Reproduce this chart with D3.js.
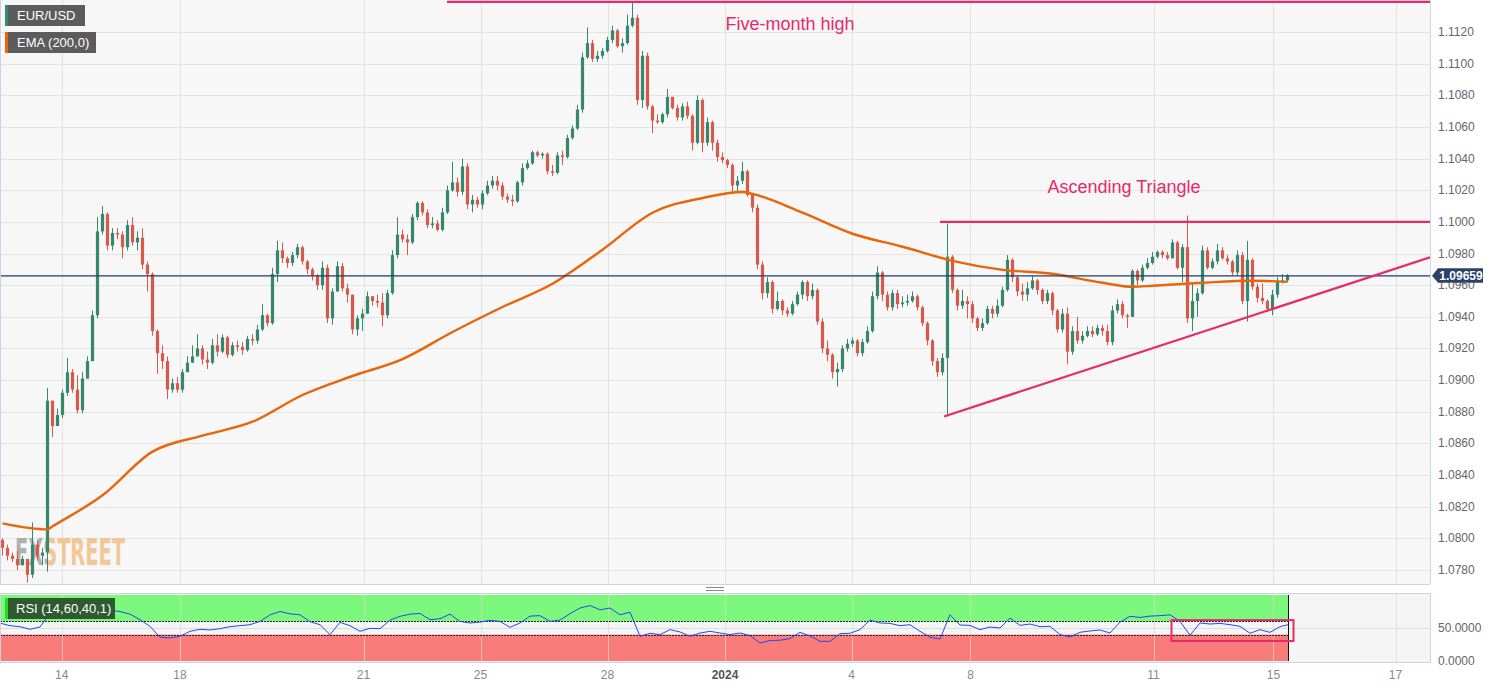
<!DOCTYPE html>
<html><head><meta charset="utf-8">
<script src="https://cdn.jsdelivr.net/npm/d3@7/dist/d3.min.js"></script>
<style>
body{margin:0;background:#fff;}
svg{display:block;font-family:"Liberation Sans",Arial,sans-serif;}
</style>
</head><body>
<svg id="c" width="1501" height="688"></svg>
<script>
// ---------- DATA (~2-hour candles) ----------
const firstOpen = 1.0799;
const closes = [
1.0794,1.0789,1.0787,1.0783,1.0787,1.0777,1.0796,1.0789,1.0791,1.0887,
1.0871,1.0878,1.0892,1.0905,1.0894,1.0881,1.0901,1.0912,1.0941,1.0994,
1.1005,1.0985,1.0993,1.0992,1.0984,1.0998,1.0987,1.0990,1.0973,1.0967,
1.0931,1.0917,1.0912,1.0894,1.0898,1.0894,1.0905,1.0911,1.0915,1.0920,
1.0913,1.0911,1.0922,1.0918,1.0927,1.0916,1.0922,1.0921,1.0919,1.0926,
1.0925,1.0932,1.0941,1.0936,1.0967,1.0982,1.0977,1.0974,1.0979,1.0984,
1.0975,1.0970,1.0966,1.0960,1.0971,1.0939,1.0956,1.0972,1.0958,1.0954,
1.0932,1.0939,1.0942,1.0953,1.0950,1.0949,1.0941,1.0955,1.0979,1.0992,
1.0989,1.0987,1.1003,1.1012,1.1006,1.0998,1.0999,1.0995,1.1006,1.1020,
1.1025,1.1019,1.1035,1.1011,1.1014,1.1011,1.1018,1.1023,1.1026,1.1023,
1.1016,1.1014,1.1013,1.1025,1.1034,1.1037,1.1044,1.1042,1.1043,1.1032,
1.1031,1.1042,1.1041,1.1053,1.1059,1.1071,1.1104,1.1113,1.1103,1.1105,
1.1108,1.1115,1.1121,1.1111,1.1113,1.1124,1.1129,1.1077,1.1105,1.1073,
1.1064,1.1063,1.1068,1.1079,1.1072,1.1066,1.1073,1.1067,1.1050,1.1077,
1.1050,1.1063,1.1050,1.1041,1.1039,1.1036,1.1023,1.1026,1.1032,1.1017,
1.1009,1.0973,1.0955,1.0962,1.0945,1.0950,1.0944,1.0942,1.0948,1.0954,
1.0962,1.0953,1.0957,1.0937,1.0920,1.0916,1.0905,1.0907,1.0920,1.0923,
1.0925,1.0917,1.0924,1.0931,1.0953,1.0968,1.0954,1.0946,1.0955,1.0948,
1.0949,1.0950,1.0953,1.0946,1.0936,1.0925,1.0912,1.0905,1.0914,1.0978,
1.0957,1.0947,1.0950,1.0948,1.0939,1.0933,1.0936,1.0945,1.0942,1.0947,
1.0957,1.0976,1.0965,1.0956,1.0954,1.0958,1.0963,1.0957,1.0950,1.0955,
1.0944,1.0932,1.0942,1.0918,1.0931,1.0925,1.0928,1.0931,1.0929,1.0933,
1.0931,1.0924,1.0944,1.0948,1.0941,1.0940,1.0969,1.0963,1.0971,1.0974,
1.0978,1.0981,1.0979,1.0977,1.0987,1.0971,1.0984,1.0939,1.0950,1.0955,
1.0982,1.0971,1.0975,1.0982,1.0977,1.0975,1.0968,1.0979,1.0950,1.0976,
1.0959,1.0952,1.0950,1.0945,1.0954,1.0962,1.0963,1.09659];
const highs = [
1.0800,1.0796,1.0791,1.0792,1.0789,1.0787,1.0810,1.0799,1.0794,1.0895,
1.0884,1.0882,1.0894,1.0914,1.0907,1.0903,1.0905,1.0915,1.0944,1.1003,
1.1010,1.1006,1.0996,1.0996,1.0994,1.1001,1.1003,1.0994,1.0996,1.0975,
1.0968,1.0932,1.0922,1.0915,1.0901,1.0902,1.0907,1.0915,1.0922,1.0929,
1.0922,1.0918,1.0926,1.0929,1.0929,1.0928,1.0924,1.0925,1.0924,1.0928,
1.0929,1.0935,1.0948,1.0942,1.0971,1.0988,1.0987,1.0978,1.0981,1.0986,
1.0985,1.0976,1.0971,1.0967,1.0975,1.0973,1.0958,1.0975,1.0974,1.0961,
1.0954,1.0941,1.0945,1.0956,1.0953,1.0954,1.0955,1.0957,1.0982,1.1003,
1.0995,1.0992,1.1005,1.1013,1.1013,1.1008,1.1003,1.1001,1.1009,1.1023,
1.1038,1.1028,1.1040,1.1037,1.1017,1.1016,1.1020,1.1026,1.1029,1.1029,
1.1025,1.1018,1.1017,1.1026,1.1037,1.1039,1.1045,1.1045,1.1044,1.1044,
1.1036,1.1044,1.1045,1.1055,1.1061,1.1074,1.1107,1.1123,1.1115,1.1108,
1.1110,1.1117,1.1124,1.1122,1.1116,1.1131,1.1139,1.1131,1.1108,1.1107,
1.1074,1.1068,1.1069,1.1084,1.1079,1.1074,1.1075,1.1076,1.1068,1.1080,
1.1078,1.1066,1.1064,1.1052,1.1044,1.1040,1.1037,1.1029,1.1038,1.1033,
1.1018,1.1011,1.0975,1.0965,1.0963,1.0956,1.0951,1.0946,1.0950,1.0956,
1.0963,1.0963,1.0961,1.0958,1.0939,1.0925,1.0917,1.0911,1.0922,1.0926,
1.0927,1.0926,1.0926,1.0934,1.0956,1.0972,1.0969,1.0956,1.0957,1.0957,
1.0953,1.0954,1.0956,1.0954,1.0947,1.0937,1.0926,1.0914,1.0917,1.0999,
1.0979,1.0958,1.0957,1.0953,1.0950,1.0940,1.0939,1.0947,1.0947,1.0951,
1.0959,1.0979,1.0977,1.0966,1.0961,1.0962,1.0966,1.0964,1.0958,1.0957,
1.0956,1.0945,1.0945,1.0946,1.0934,1.0940,1.0931,1.0934,1.0934,1.0935,
1.0935,1.0935,1.0947,1.0951,1.0950,1.0942,1.0970,1.0970,1.0973,1.0977,
1.0981,1.0982,1.0982,1.0981,1.0989,1.0988,1.0986,1.1004,1.0961,1.0958,
1.0985,1.0984,1.0977,1.0986,1.0984,1.0979,1.0976,1.0982,1.0981,1.0988,
1.0977,1.0961,1.0961,1.0951,1.0957,1.0965,1.0967,1.0967];
const lows = [
1.0789,1.0786,1.0785,1.0780,1.0783,1.0772,1.0775,1.0786,1.0783,1.0779,
1.0864,1.0871,1.0876,1.0890,1.0892,1.0879,1.0879,1.0901,1.0923,1.0939,
1.0992,1.0982,1.0982,1.0989,1.0977,1.0982,1.0985,1.0982,1.0970,1.0956,
1.0928,1.0904,1.0907,1.0888,1.0892,1.0892,1.0892,1.0907,1.0911,1.0917,
1.0910,1.0907,1.0910,1.0915,1.0917,1.0914,1.0915,1.0918,1.0916,1.0918,
1.0922,1.0923,1.0931,1.0934,1.0935,1.0962,1.0974,1.0971,1.0972,1.0977,
1.0973,1.0967,1.0963,1.0957,1.0957,1.0936,1.0935,1.0956,1.0956,1.0949,
1.0929,1.0928,1.0931,1.0942,1.0947,1.0946,1.0934,1.0939,1.0954,1.0977,
1.0987,1.0979,1.0986,1.1001,1.1004,1.0996,1.0996,1.0994,1.0994,1.1005,
1.1019,1.1016,1.1017,1.1008,1.1006,1.1009,1.1008,1.1017,1.1021,1.1020,
1.1014,1.1012,1.1010,1.1012,1.1023,1.1033,1.1036,1.1041,1.1040,1.1030,
1.1029,1.1030,1.1036,1.1040,1.1052,1.1058,1.1069,1.1103,1.1101,1.1101,
1.1103,1.1107,1.1113,1.1110,1.1107,1.1112,1.1123,1.1074,1.1072,1.1071,
1.1056,1.1062,1.1062,1.1066,1.1071,1.1064,1.1064,1.1065,1.1045,1.1049,
1.1044,1.1048,1.1045,1.1038,1.1037,1.1034,1.1019,1.1019,1.1024,1.1016,
1.1006,1.0970,1.0951,1.0952,1.0942,1.0944,1.0941,1.0940,1.0941,1.0947,
1.0951,1.0950,1.0951,1.0935,1.0917,1.0912,1.0901,1.0896,1.0905,1.0918,
1.0921,1.0915,1.0915,1.0923,1.0930,1.0951,1.0950,1.0944,1.0944,1.0945,
1.0946,1.0947,1.0949,1.0944,1.0934,1.0922,1.0909,1.0902,1.0903,1.0877,
1.0955,1.0944,1.0945,1.0939,1.0936,1.0931,1.0931,1.0935,1.0939,1.0940,
1.0946,1.0956,1.0962,1.0953,1.0950,1.0950,1.0957,1.0954,1.0948,1.0948,
1.0941,1.0930,1.0930,1.0910,1.0916,1.0923,1.0923,1.0927,1.0927,1.0928,
1.0928,1.0922,1.0922,1.0942,1.0939,1.0933,1.0940,1.0960,1.0962,1.0970,
1.0973,1.0977,1.0977,1.0976,1.0977,1.0970,1.0962,1.0936,1.0931,1.0940,
1.0954,1.0970,1.0970,1.0973,1.0976,1.0973,1.0966,1.0966,1.0948,1.0937,
1.0957,1.0949,1.0948,1.0943,1.0941,1.0952,1.0961,1.0962];

// EMA (200), at these candle indices
const emaIdx  = [0, 9, 10, 20, 30, 40, 50, 60, 70, 80, 90, 100, 110, 120, 130, 140, 148, 150, 160, 170, 180, 190, 200, 210, 220, 226, 230, 240, 250, 257];
const emaVals = [1.08095,1.08057,1.08076,1.08272,1.08548,1.08649,1.08737,1.08906,1.09026,1.09133,1.09304,1.09462,1.09609,1.09824,1.10058,1.10151,1.10189,1.10177,1.10058,1.09925,1.09843,1.09754,1.09697,1.09672,1.09615,1.09590,1.09596,1.09615,1.09628,1.09621];

// RSI(14), one value every 2 candles
const rsiVals = [
57.5,53.5,52,48,51.5,72.7,72.7,71,65,74,
80,77,75,71,62.6,52.5,36,35,37.4,45,
48,47,49,52,53.5,55,60,70,75,71.5,
70,59.5,55,40,58.6,53.5,45,49.5,49,62,
67.7,71,72,62.6,64,71,60,57.5,59,61.6,
60,51,57.6,68,68.7,60,62,71.7,80.3,84,
77.5,80.3,70,74,37.4,42,40,47.5,44,37.4,
42.4,45,42.4,40,42.4,38.5,27.3,31,31.5,34,
43.4,38,29.8,29.8,41.4,42,47.5,62,57.6,57,
53.5,55,45,36,33.3,70,54.5,54,47.5,51.5,
50,65,54,56,52,52.5,40,36.4,43.5,45.5,
47,42.4,59,67.7,66,68,68.7,70,60,39,
57.6,56,57,55,52.5,42,47.5,43.4,52,55];

// x-axis day labels and the candle time at which each day starts
const dayLabels = ["14","18","21","25","28","2024","4","8","11","15","17"];
const dayTimes  = [12.35, 36, 72.7, 96.1, 121.5, 145, 170.3, 194.1, 230.7, 254.7, 279.1];
const priceTicks = [1.078,1.080,1.082,1.084,1.086,1.088,1.090,1.092,1.094,1.096,1.098,1.100,1.102,1.104,1.106,1.108,1.110,1.112];
const rsiTicks = [0, 50];
const rsiUpper = 60, rsiLower = 40;

// annotations
const fiveMonthHigh = {price: 1.1139, from: 89.4, label: "Five-month high"};
const resistance = {price: 1.1000, from: 188, label: "Ascending Triangle"};
const trendLine = [[188.8, 1.0877], [286, 1.09776]];
const rsiBox = {from: 234.3, to: 258.7, hi: 62, lo: 30.3};

// ---------- LAYOUT ----------
const plotR = 1430, mainB = 584, rsiT = 593, rsiB = 662;
const GREEN = "#37876f", RED = "#d65a4b", PINK = "#e8296b", ORANGE = "#e8650a";

const svg = d3.select("#c");
const x = d3.scaleLinear().domain([0, 286]).range([0, plotR]);
const y = d3.scaleLinear().domain([1.078, 1.112]).range([570, 32]);
const yr = d3.scaleLinear().domain([0, 100]).range([661, 595]);

// backgrounds
svg.append("rect").attr("x",0).attr("y",0).attr("width",plotR).attr("height",mainB).attr("fill","#f7f7f7");
svg.append("rect").attr("x",0).attr("y",rsiT).attr("width",plotR).attr("height",rsiB-rsiT).attr("fill","#f5f5f5");

const defs = svg.append("defs");
defs.append("clipPath").attr("id","mainClip").append("rect").attr("x",0).attr("y",0).attr("width",plotR).attr("height",mainB);
defs.append("clipPath").attr("id","rsiClip").append("rect").attr("x",0).attr("y",rsiT).attr("width",plotR).attr("height",rsiB-rsiT);
// two-colour fill for the watermark logo (grey "FX", orange "STREET")
const wmGrad = defs.append("linearGradient").attr("id","wmGrad")
  .attr("gradientUnits","userSpaceOnUse").attr("x1",15).attr("x2",125).attr("y1",0).attr("y2",0);
wmGrad.append("stop").attr("offset",0).attr("stop-color","#a3a3a3");
wmGrad.append("stop").attr("offset",0.29).attr("stop-color","#a3a3a3");
wmGrad.append("stop").attr("offset",0.29).attr("stop-color","#f0bf86");
wmGrad.append("stop").attr("offset",1).attr("stop-color","#f0bf86");

// grid main
const grid = svg.append("g");
grid.selectAll("line.h").data(priceTicks).enter().append("line")
  .attr("x1",0).attr("x2",plotR).attr("y1",d=>Math.round(y(d))+0.5).attr("y2",d=>Math.round(y(d))+0.5)
  .attr("stroke","#e3e3e3").attr("stroke-width",1);
grid.selectAll("line.v").data(dayTimes).enter().append("line")
  .attr("y1",0).attr("y2",mainB).attr("x1",d=>Math.round(x(d))+0.5).attr("x2",d=>Math.round(x(d))+0.5)
  .attr("stroke","#e3e3e3").attr("stroke-width",1);

// watermark
svg.append("text").attr("x",15).attr("y",565)
  .attr("font-family","'DejaVu Sans Condensed','Liberation Sans Narrow',sans-serif")
  .attr("font-weight","bold").attr("font-size",38)
  .attr("textLength",110).attr("lengthAdjust","spacingAndGlyphs")
  .attr("fill","url(#wmGrad)").attr("fill-opacity",0.85).text("FXSTREET");

// candles
const main = svg.append("g").attr("clip-path","url(#mainClip)");
const candles = closes.map((c,i)=>{
  const o = i===0 ? firstOpen : closes[i-1];
  return {i, o, c, h: Math.max(highs[i], o, c), l: Math.min(lows[i], o, c)};
});
const cg = main.append("g");
cg.selectAll("line.w").data(candles).enter().append("line")
  .attr("x1",d=>x(d.i+0.5)).attr("x2",d=>x(d.i+0.5))
  .attr("y1",d=>y(d.h)).attr("y2",d=>y(d.l))
  .attr("stroke",d=>d.c>=d.o?GREEN:RED).attr("stroke-width",1);
cg.selectAll("rect.b").data(candles).enter().append("rect")
  .attr("x",d=>x(d.i+0.5)-1.6).attr("width",3.2)
  .attr("y",d=>y(Math.max(d.o,d.c)))
  .attr("height",d=>Math.max(1, Math.abs(y(d.o)-y(d.c))))
  .attr("fill",d=>d.c>=d.o?GREEN:RED);

// EMA
main.append("path").datum(emaIdx.map((k,j)=>[k, emaVals[j]]))
  .attr("d", d3.line().x(d=>x(d[0]+0.5)).y(d=>y(d[1])).curve(d3.curveMonotoneX))
  .attr("fill","none").attr("stroke",ORANGE).attr("stroke-width",2.4);

// current price line
const last = closes[closes.length-1];
main.append("line").attr("x1",0).attr("x2",plotR).attr("y1",y(last)).attr("y2",y(last))
  .attr("stroke","#1f3d6e").attr("stroke-width",1.2);

// annotations
main.append("line").attr("x1",x(fiveMonthHigh.from)).attr("x2",plotR)
  .attr("y1",y(fiveMonthHigh.price)).attr("y2",y(fiveMonthHigh.price))
  .attr("stroke",PINK).attr("stroke-width",2.2);
main.append("line").attr("x1",x(resistance.from)).attr("x2",plotR)
  .attr("y1",y(resistance.price)).attr("y2",y(resistance.price))
  .attr("stroke",PINK).attr("stroke-width",2.2);
main.append("line").attr("x1",x(trendLine[0][0])).attr("y1",y(trendLine[0][1]))
  .attr("x2",x(trendLine[1][0])).attr("y2",y(trendLine[1][1]))
  .attr("stroke",PINK).attr("stroke-width",2.2);
svg.append("text").attr("x",790).attr("y",30).attr("text-anchor","middle")
  .attr("font-size",18).attr("fill",PINK).text(fiveMonthHigh.label);
svg.append("text").attr("x",1124).attr("y",193).attr("text-anchor","middle")
  .attr("font-size",18).attr("fill",PINK).text(resistance.label);

// main borders
svg.append("line").attr("x1",plotR+0.5).attr("x2",plotR+0.5).attr("y1",0).attr("y2",mainB).attr("stroke","#cdd2e6");
svg.append("line").attr("x1",0).attr("x2",plotR).attr("y1",mainB+0.5).attr("y2",mainB+0.5).attr("stroke","#cdd2e6");
svg.append("line").attr("x1",0.5).attr("x2",0.5).attr("y1",0).attr("y2",mainB).attr("stroke","#cdd2e6");

// price axis labels
svg.append("g").selectAll("text").data(priceTicks).enter().append("text")
  .attr("x",1438).attr("y",d=>y(d)+4).attr("font-size",12).attr("fill","#666")
  .text(d=>d.toFixed(4));

// current price tag
const yc = y(last);
svg.append("path").attr("d",`M${plotR+2},${yc} L${plotR+8},${yc-7.5} L${plotR+53},${yc-7.5} L${plotR+53},${yc+7} L${plotR+8},${yc+7} Z`)
  .attr("fill","#2b4168");
svg.append("text").attr("x",plotR+31).attr("y",yc+4).attr("text-anchor","middle")
  .attr("font-size",12).attr("font-weight","bold").attr("fill","#fff").text(last.toFixed(5));

// legend boxes
function legend(yTop, w, stripe, bg, label){
  svg.append("rect").attr("x",5).attr("y",yTop).attr("width",w).attr("height",21).attr("fill",bg);
  svg.append("rect").attr("x",5).attr("y",yTop).attr("width",3).attr("height",21).attr("fill",stripe);
  svg.append("text").attr("x",17).attr("y",yTop+15).attr("font-size",13).attr("fill","#fff").text(label);
}
legend(5, 80, "#2e8b76", "#5c5c5c", "EUR/USD");
legend(32, 91, ORANGE, "#5c5c5c", "EMA (200,0)");

// separator handle
svg.append("line").attr("x1",706).attr("x2",724).attr("y1",587.5).attr("y2",587.5).attr("stroke","#888");
svg.append("line").attr("x1",706).attr("x2",724).attr("y1",590.5).attr("y2",590.5).attr("stroke","#888");

// ---------- RSI panel ----------
const rsiG = svg.append("g").attr("clip-path","url(#rsiClip)");
const lastT = closes.length - 0.4;
rsiG.append("rect").attr("x",0).attr("width",x(lastT)).attr("y",yr(100)).attr("height",yr(rsiUpper)-yr(100)).attr("fill","#7cf87c");
rsiG.append("rect").attr("x",0).attr("width",x(lastT)).attr("y",yr(rsiLower)).attr("height",yr(0)-yr(rsiLower)).attr("fill","#f87c7a");
rsiG.selectAll("line.v").data(dayTimes).enter().append("line")
  .attr("y1",rsiT).attr("y2",rsiB).attr("x1",d=>Math.round(x(d))+0.5).attr("x2",d=>Math.round(x(d))+0.5)
  .attr("stroke","#d8d8d8").attr("stroke-opacity",0.7);
rsiG.selectAll("line.h").data(rsiTicks.filter(d=>d>0)).enter().append("line")
  .attr("x1",0).attr("x2",plotR).attr("y1",d=>Math.round(yr(d))+0.5).attr("y2",d=>Math.round(yr(d))+0.5)
  .attr("stroke","#dcdcdc");
[rsiUpper, rsiLower].forEach(v=>{
  rsiG.append("line").attr("x1",0).attr("x2",x(lastT)).attr("y1",Math.round(yr(v))+0.5).attr("y2",Math.round(yr(v))+0.5)
    .attr("stroke","#222").attr("stroke-dasharray","2,1");
});
rsiG.append("line").attr("x1",Math.round(x(lastT))+0.5).attr("x2",Math.round(x(lastT))+0.5).attr("y1",yr(100)).attr("y2",yr(0)).attr("stroke","#111");
rsiG.append("line").attr("x1",0.5).attr("x2",0.5).attr("y1",yr(rsiUpper)).attr("y2",yr(0)).attr("stroke","#111");
rsiG.append("path").datum(rsiVals)
  .attr("d", d3.line().x((d,k)=>x(Math.min(2*k, lastT))).y(d=>yr(d)))
  .attr("fill","none").attr("stroke","#2447f0").attr("stroke-width",1);
svg.append("rect").attr("x",x(rsiBox.from)).attr("y",yr(rsiBox.hi))
  .attr("width",x(rsiBox.to)-x(rsiBox.from)).attr("height",yr(rsiBox.lo)-yr(rsiBox.hi))
  .attr("fill","none").attr("stroke",PINK).attr("stroke-width",2);
// RSI borders
svg.append("rect").attr("x",0.5).attr("y",rsiT+0.5).attr("width",plotR).attr("height",rsiB-rsiT)
  .attr("fill","none").attr("stroke","#cdd2e6");
// RSI label
svg.append("rect").attr("x",5).attr("y",598).attr("width",110).attr("height",21).attr("fill","#2f5a2f");
svg.append("rect").attr("x",5).attr("y",598).attr("width",3).attr("height",21).attr("fill","#1fe01f");
svg.append("text").attr("x",16).attr("y",613).attr("font-size",13).attr("fill","#fff").text("RSI (14,60,40,1)");
// RSI axis labels
svg.append("g").selectAll("text").data(rsiTicks).enter().append("text")
  .attr("x",1438).attr("y",d=>yr(d)+4).attr("font-size",12).attr("fill","#666")
  .text(d=>d.toFixed(4));

// x axis labels
svg.append("g").selectAll("text").data(dayLabels).enter().append("text")
  .attr("x",(d,k)=>x(dayTimes[k])).attr("y",679).attr("text-anchor","middle")
  .attr("font-size",12)
  .attr("font-weight",d=>d==="2024"?"bold":"normal")
  .attr("fill",d=>d==="2024"?"#555":"#888")
  .text(d=>d);
</script>
</body></html>
